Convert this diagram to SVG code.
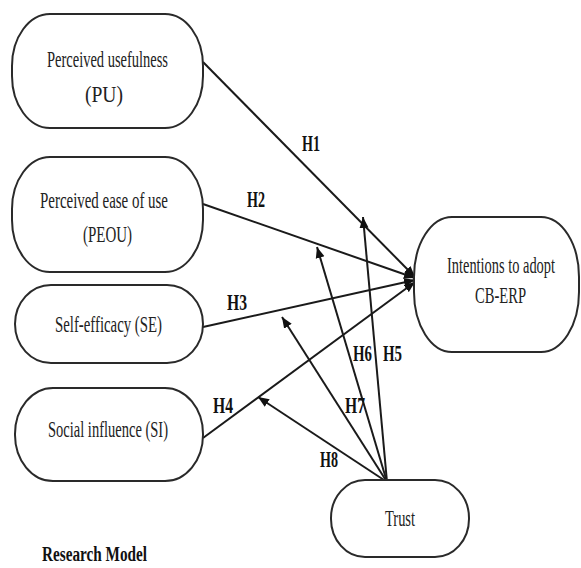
<svg xmlns="http://www.w3.org/2000/svg" width="581" height="568" viewBox="0 0 581 568">
<style>
.box{fill:#fff;stroke:#2a2a2a;stroke-width:2}
.t{font-family:"Liberation Serif","Times New Roman",serif;font-size:24px;fill:#222}
.h{font-family:"Liberation Serif","Times New Roman",serif;font-size:23px;font-weight:bold;fill:#111}
.e{stroke:#1a1a1a;stroke-width:2;fill:none;marker-end:url(#ah)}
</style>
<defs>
<marker id="ah" markerUnits="userSpaceOnUse" markerWidth="12" markerHeight="10" refX="11" refY="5" orient="auto">
<path d="M0,0.5 L11,5 L0,9.5 z" fill="#111"/>
</marker>
</defs>
<rect width="581" height="568" fill="#fff"/>
<g id="connectors">
<line class="e" x1="203" y1="62" x2="415" y2="277"/>
<line class="e" x1="203" y1="204" x2="415" y2="278"/>
<line class="e" x1="203" y1="327" x2="415" y2="280"/>
<line class="e" x1="203" y1="438" x2="415" y2="282"/>
<line class="e" x1="387" y1="482" x2="363" y2="217"/>
<line class="e" x1="387" y1="482" x2="317" y2="247"/>
<line class="e" x1="387" y1="482" x2="282" y2="317"/>
<line class="e" x1="387" y1="482" x2="258" y2="397"/>
<text class="h" x="302" y="151" textLength="18" lengthAdjust="spacingAndGlyphs">H1</text>
<text class="h" x="247" y="207" textLength="18" lengthAdjust="spacingAndGlyphs">H2</text>
<text class="h" x="227" y="310" textLength="20" lengthAdjust="spacingAndGlyphs">H3</text>
<text class="h" x="213" y="413" textLength="20" lengthAdjust="spacingAndGlyphs">H4</text>
<text class="h" x="383" y="361" textLength="19" lengthAdjust="spacingAndGlyphs">H5</text>
<text class="h" x="353" y="361" textLength="19" lengthAdjust="spacingAndGlyphs">H6</text>
<text class="h" x="345" y="413" textLength="20" lengthAdjust="spacingAndGlyphs">H7</text>
<text class="h" x="320" y="467" textLength="18" lengthAdjust="spacingAndGlyphs">H8</text>
</g>
<g id="pu">
<rect class="box" x="12" y="14" width="191" height="114" rx="38" ry="52"/>
<text class="t" x="47" y="67" textLength="121" lengthAdjust="spacingAndGlyphs">Perceived usefulness</text>
<text class="t" x="85" y="102" textLength="38" lengthAdjust="spacingAndGlyphs">(PU)</text>
</g>
<g id="peou">
<rect class="box" x="12" y="157" width="191" height="115" rx="38" ry="52"/>
<text class="t" x="40" y="208" textLength="128" lengthAdjust="spacingAndGlyphs">Perceived ease of use</text>
<text class="t" x="83" y="242" textLength="49" lengthAdjust="spacingAndGlyphs">(PEOU)</text>
</g>
<g id="se">
<rect class="box" x="15" y="285" width="188" height="78" rx="36" ry="39"/>
<text class="t" x="55" y="332" textLength="107" lengthAdjust="spacingAndGlyphs">Self-efficacy (SE)</text>
</g>
<g id="si">
<rect class="box" x="15" y="388" width="188" height="93" rx="38" ry="46"/>
<text class="t" x="48" y="437" textLength="120" lengthAdjust="spacingAndGlyphs">Social influence (SI)</text>
</g>
<g id="intentions">
<rect class="box" x="414" y="217" width="165" height="135" rx="38" ry="60"/>
<text class="t" transform="translate(447,273) scale(0.6,1)" x="0" y="0" textLength="180" lengthAdjust="spacingAndGlyphs">Intentions to adopt</text>
<text class="t" transform="translate(475,303) scale(0.6,1)" x="0" y="0" textLength="85" lengthAdjust="spacingAndGlyphs">CB-ERP</text>
</g>
<g id="trust">
<rect class="box" x="331" y="480" width="138" height="77" rx="34" ry="38"/>
<text class="t" x="385" y="526" textLength="30" lengthAdjust="spacingAndGlyphs">Trust</text>
</g>
<text class="h" x="42" y="561" textLength="105" lengthAdjust="spacingAndGlyphs" style="font-size:20px">Research Model</text>
</svg>
